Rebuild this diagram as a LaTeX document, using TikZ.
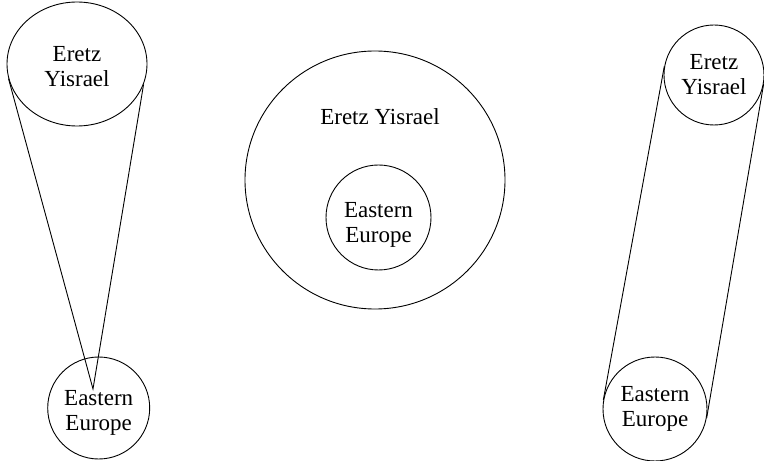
\documentclass[tikz,border=0pt]{standalone}
\usepackage{fontspec}
\setmainfont{Liberation Serif}
\usetikzlibrary{shapes.geometric}
\newcommand{\topgap}[1]{\rule{0pt}{#1}}
\begin{document}
\begin{tikzpicture}[x=1pt,y=1pt,
  blob/.style={draw, line width=0.9pt, inner sep=0pt, align=center, font=\fontsize{23}{25}\selectfont},
  lbl/.style={inner sep=0pt, align=center, font=\fontsize{23}{25}\selectfont},
  link/.style={line width=0.9pt}]
\useasboundingbox (0,0) rectangle (764,461);
% left: cone
\node[blob, ellipse, minimum width=140pt, minimum height=124pt] (eyL) at (77,397) {\topgap{21pt}Eretz\\Yisrael};
\node[blob, circle, minimum size=102pt] (eeL) at (98.7,53) {\topgap{24pt}Eastern\\Europe};
\coordinate (apex) at (93,72);
\draw[link] (eyL.192) -- (apex) -- (eyL.-17);
% middle: nested
\node[draw, line width=0.9pt, ellipse, inner sep=0pt, minimum width=260pt, minimum height=258pt] (big) at (375,281) {};
\node[lbl] (eyM) at (380,344) {Eretz Yisrael};
\node[blob, circle, minimum size=105pt] (eeM) at (378.5,243.5) {\topgap{29pt}Eastern\\Europe};
% right: cylinder
\node[blob, circle, minimum size=100pt] (eyR) at (714,386) {Eretz\\Yisrael};
\node[blob, circle, minimum size=104pt] (eeR) at (655,52) {Eastern\\Europe};
\draw[link] (eyR.170) -- (eeR.170);
\draw[link] (eyR.-10) -- (eeR.-10);
\end{tikzpicture}
\end{document}
